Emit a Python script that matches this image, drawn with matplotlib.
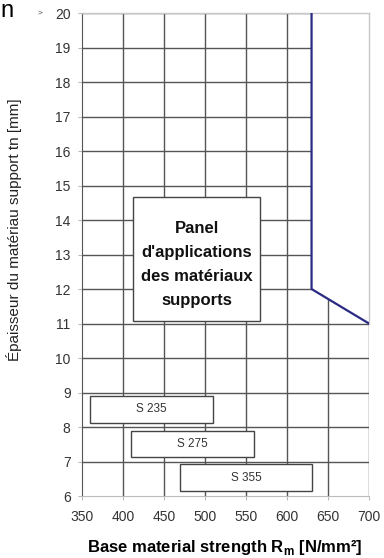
import matplotlib.pyplot as plt
from matplotlib.patches import Rectangle, Polygon

plt.rcParams['font.family'] = ['Liberation Sans', 'DejaVu Sans']

# strength axis / thickness axis
x_ticks = [350, 400, 450, 500, 550, 600, 650, 700]
y_ticks = list(range(6, 21))

# boundary of the application range
limit_rm = [630, 630, 700]
limit_t = [20, 12, 11]

# steel grades: (label, Rm min, Rm max, t low, t high)
grade_names = ['S 235', 'S 275', 'S 355']
grade_rm_lo = [360, 410, 470]
grade_rm_hi = [510, 560, 630]
grade_t_lo = [8.12, 7.12, 6.14]
grade_t_hi = [8.9, 7.88, 6.92]

panel_text = "Panel\nd'applications\ndes matériaux\nsupports"
panel_rm = (413, 567)
panel_t = (11.08, 14.66)

grid_col = '#555555'

fig = plt.figure(figsize=(3.84, 5.58), dpi=100)
ax = fig.add_axes([0.2128, 0.111, 0.7482, 0.8657])
ax.set_xlim(350, 700)
ax.set_ylim(6, 20)

# grid
for x in x_ticks[1:]:
    ax.plot([x, x], [6, 20], color=grid_col, lw=1.0, zorder=1)
for y in y_ticks[1:]:
    ax.plot([350, 700], [y, y], color=grid_col, lw=1.0, zorder=1)

# blank area outside the limit line
ax.add_patch(Polygon([(limit_rm[0], 20), (limit_rm[1], limit_t[1]),
                      (limit_rm[2], limit_t[2]), (700, 20)],
                     closed=True, facecolor='white', edgecolor='none', zorder=2))
ax.plot([350, 700], [20, 20], color='#c8c8c8', lw=1.0, zorder=3, clip_on=False)
ax.plot([700, 700], [11, 20], color='#c8c8c8', lw=1.0, zorder=3, clip_on=False)

ax.plot(limit_rm, limit_t, color='#2a2a85', lw=1.6, zorder=5)

# grade bars
for name, lo, hi, tlo, thi in zip(grade_names, grade_rm_lo, grade_rm_hi,
                                   grade_t_lo, grade_t_hi):
    ax.add_patch(Rectangle((lo, tlo), hi - lo, thi - tlo, facecolor='white',
                           edgecolor='#444444', lw=1.0, zorder=4))
    ax.text((lo + hi) / 2, (tlo + thi) / 2, name, ha='center', va='center',
            fontsize=8.5, color='#333333', zorder=6)

ax.add_patch(Rectangle((panel_rm[0], panel_t[0]), panel_rm[1] - panel_rm[0],
                       panel_t[1] - panel_t[0], facecolor='white',
                       edgecolor='#444444', lw=1.0, zorder=4))
ax.text(sum(panel_rm) / 2, sum(panel_t) / 2 - 0.15, panel_text, ha='center',
        va='center', fontsize=12, fontweight='bold', linespacing=1.75,
        color='#111111', zorder=6)

for s in ['top', 'right']:
    ax.spines[s].set_visible(False)
ax.spines['left'].set_color(grid_col)
ax.spines['bottom'].set_color('#bbbbbb')

ax.set_xticks(x_ticks)
ax.set_yticks(y_ticks)
ax.tick_params(axis='both', labelsize=10, labelcolor='#333333', color='#bbbbbb',
               length=3, width=0.8)
ax.tick_params(axis='x', pad=7)
ax.tick_params(axis='y', pad=5)

fig.text(0.586, 0.018, 'Base material strength R$_\\mathregular{m}$ [N/mm²]',
         ha='center', va='center', fontsize=12, fontweight='bold')
fig.text(0.037, 0.589, 'Épaisseur du matériau support tn [mm]', rotation=90,
         ha='center', va='center', fontsize=11, color='#222222')
fig.text(0.0, 1.0, 'n', ha='left', va='top', fontsize=17)
fig.text(0.105, 0.977, '>', ha='center', va='center', fontsize=6, color='#444444')

fig.savefig('out.png', dpi=100)
